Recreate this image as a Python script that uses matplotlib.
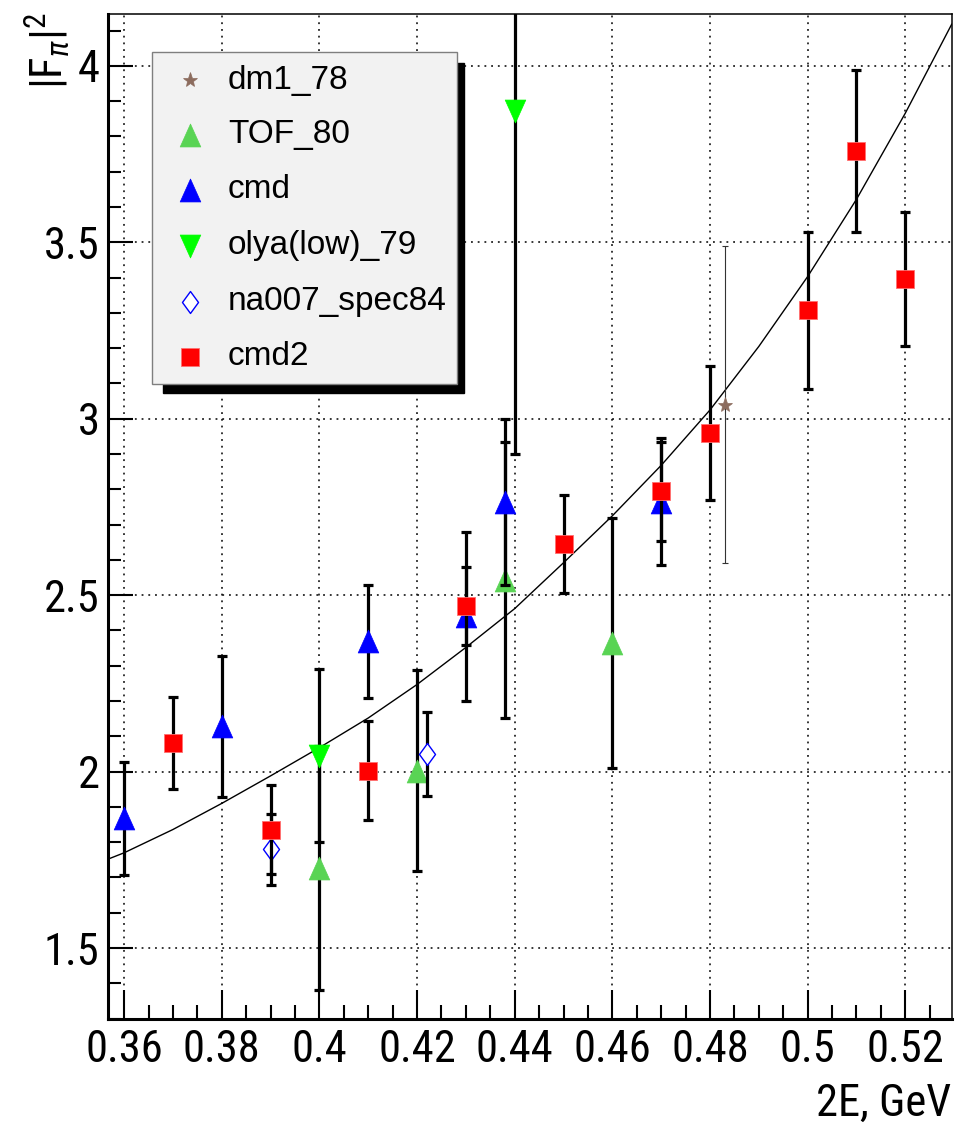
import numpy as np
import matplotlib
matplotlib.use("Agg")
import matplotlib.pyplot as plt
from matplotlib import font_manager
from matplotlib.path import Path
from matplotlib.patches import Rectangle
from matplotlib.lines import Line2D
from matplotlib.ticker import MultipleLocator, FixedLocator, FixedFormatter

# -----------------------------
# DATA
# -----------------------------
dm1_x = [0.483]
dm1_y = [3.04]
dm1_err = [0.45]

tof_x = [0.40, 0.42, 0.438, 0.46]
tof_y = [1.727, 2.003, 2.543, 2.365]
tof_err = [0.347, 0.285, 0.39, 0.355]

cmd_x = [0.36, 0.38, 0.41, 0.43, 0.438, 0.47]
cmd_y = [1.868, 2.128, 2.369, 2.44, 2.765, 2.765]
cmd_err = [0.16, 0.20, 0.16, 0.24, 0.235, 0.18]

olya_x = [0.40, 0.44]
olya_y = [2.045, 3.871]
olya_err = [0.245, 0.97]

na_x = [0.39, 0.422]
na_y = [1.78, 2.05]
na_err = [0.10, 0.12]

cmd2_x = [0.37, 0.39, 0.41, 0.43, 0.45, 0.47, 0.48, 0.50, 0.51, 0.52]
cmd2_y = [2.082, 1.836, 2.003, 2.47, 2.645, 2.794, 2.959, 3.307, 3.759, 3.397]
cmd2_err = [0.13, 0.125, 0.14, 0.11, 0.14, 0.14, 0.19, 0.222, 0.23, 0.19]

# fit curve, read at each 0.01
fit_x = [0.3567, 0.36, 0.37, 0.38, 0.39, 0.40, 0.41, 0.42, 0.43, 0.44,
         0.45, 0.46, 0.47, 0.48, 0.49, 0.50, 0.51, 0.52, 0.5295]
fit_y = [1.752, 1.77, 1.836, 1.91, 1.988, 2.068, 2.152, 2.247, 2.352, 2.462,
         2.592, 2.725, 2.868, 3.025, 3.205, 3.403, 3.622, 3.866, 4.118]

xticks = [0.36, 0.38, 0.40, 0.42, 0.44, 0.46, 0.48, 0.50, 0.52]
xtick_labels = ["0.36", "0.38", "0.4", "0.42", "0.44", "0.46", "0.48", "0.5", "0.52"]
yticks = [1.5, 2.0, 2.5, 3.0, 3.5, 4.0]
ytick_labels = ["1.5", "2", "2.5", "3", "3.5", "4"]

# -----------------------------
# FONTS
# -----------------------------
names = {f.name for f in font_manager.fontManager.ttflist}
narrow = "Liberation Sans"
for cand in ["Liberation Sans Narrow", "Roboto Condensed"]:
    if cand in names:
        narrow = cand
        break
plt.rcParams["font.family"] = ["Liberation Sans", "DejaVu Sans"]
plt.rcParams["mathtext.fontset"] = "custom"
plt.rcParams["mathtext.rm"] = narrow
plt.rcParams["mathtext.it"] = narrow + ":italic"
plt.rcParams["mathtext.sf"] = narrow
AXFS = 32

W, H = 966, 1130


def fx(px):
    return px / W


def fy(py):
    return 1 - py / H


# ROOT-like marker shapes
tri_up = Path([(0, 1), (-0.9, -1), (0.9, -1), (0, 1)], closed=True)
tri_dn = Path([(0, -1), (-0.9, 1), (0.9, 1), (0, -1)], closed=True)
diamond = Path([(0, 1), (0.73, 0), (0, -1), (-0.73, 0), (0, 1)], closed=True)

series = [
    ("dm1_78", dm1_x, dm1_y, dm1_err,
     dict(marker="*", ms=11, color="#8c6c5e", mec="#8c6c5e", mew=0.5), 0.8),
    ("TOF_80", tof_x, tof_y, tof_err,
     dict(marker=tri_up, ms=16.5, color="#59d454", mec="#59d454", mew=0.5), 2.3),
    ("cmd", cmd_x, cmd_y, cmd_err,
     dict(marker=tri_up, ms=16.5, color="#0000ff", mec="#0000ff", mew=0.5), 2.3),
    ("olya(low)_79", olya_x, olya_y, olya_err,
     dict(marker=tri_dn, ms=16.5, color="#00ff00", mec="#00ff00", mew=0.5), 2.3),
    ("na007_spec84", na_x, na_y, na_err,
     dict(marker=diamond, ms=15.8, color="#0000ff", mfc="white", mec="#0000ff", mew=1.0), 2.3),
    ("cmd2", cmd2_x, cmd2_y, cmd2_err,
     dict(marker="s", ms=12.8, color="#ff0000", mec="#ff7070", mew=0.6), 2.3),
]

fig = plt.figure(figsize=(W / 100, H / 100), dpi=100)
ax = fig.add_axes([fx(108), fy(1019), (951.7 - 108) / W, (1019 - 14) / H])
ax.set_xlim(0.3567, 0.5295)
ax.set_ylim(1.299, 4.147)

# grid
ax.grid(True, which="major", color="black", linestyle=(0, (1.2, 3.2)), linewidth=1.1)
ax.set_axisbelow(True)

# fit curve
ax.plot(fit_x, fit_y, color="black", lw=1.0, zorder=2)

# data
z = 3
for label, xs, ys, es, style, elw in series:
    cap = 2.5 if elw < 1 else 3.5
    ecol = "#333333" if elw < 1 else "black"
    ax.errorbar(xs, ys, yerr=es, fmt="none", ecolor=ecol, elinewidth=elw,
                capsize=cap, capthick=elw, zorder=z)
    ax.plot(xs, ys, linestyle="none", zorder=z + 0.5, **style)
    z += 1

# axes style (ROOT-ish)
for side in ["left", "bottom"]:
    ax.spines[side].set_linewidth(2.2)
for side in ["top", "right"]:
    ax.spines[side].set_linewidth(1.1)

ax.xaxis.set_major_locator(FixedLocator(xticks))
ax.xaxis.set_major_formatter(FixedFormatter(xtick_labels))
ax.yaxis.set_major_locator(FixedLocator(yticks))
ax.yaxis.set_major_formatter(FixedFormatter(ytick_labels))
ax.xaxis.set_minor_locator(MultipleLocator(0.005))
ax.yaxis.set_minor_locator(MultipleLocator(0.1))

ax.tick_params(axis="x", which="major", direction="in", length=21, width=1.5, pad=7)
ax.tick_params(axis="x", which="minor", direction="in", length=10, width=1.5)
ax.tick_params(axis="y", which="major", direction="in", length=18, width=1.5, pad=6)
ax.tick_params(axis="y", which="minor", direction="in", length=9.5, width=1.5)
for lab in ax.get_xticklabels() + ax.get_yticklabels():
    lab.set_fontfamily(narrow)
    lab.set_fontsize(AXFS)

# axis titles
fig.text(fx(951.7), fy(1116), "2E, GeV", ha="right", va="baseline",
         fontsize=AXFS, fontfamily=narrow)
fig.text(fx(23), fy(12), r"$|\mathrm{F}_{\pi}|^{2}$", rotation=90,
         ha="left", va="top", fontsize=AXFS)

# legend box with black shadow
fig.add_artist(Rectangle((fx(162.7), fy(392.7)), (464 - 162.7) / W, (392.7 - 63) / H,
                         transform=fig.transFigure, facecolor="black",
                         edgecolor="black", zorder=10))
fig.add_artist(Rectangle((fx(152.3), fy(384.3)), (456.7 - 152.3) / W, (384.3 - 51.7) / H,
                         transform=fig.transFigure, facecolor="#f2f2f2",
                         edgecolor="#7f7f7f", lw=1.0, zorder=11))
rows = [80, 135, 190, 245.7, 301.7, 356.7]
for (label, xs, ys, es, style, elw), ry in zip(series, rows):
    fig.add_artist(Line2D([fx(190)], [fy(ry)], transform=fig.transFigure,
                          linestyle="none", zorder=12, **style))
    fig.text(fx(228), fy(ry), label, ha="left", va="center", fontsize=24,
             zorder=12)

fig.savefig("out.png", dpi=100)
